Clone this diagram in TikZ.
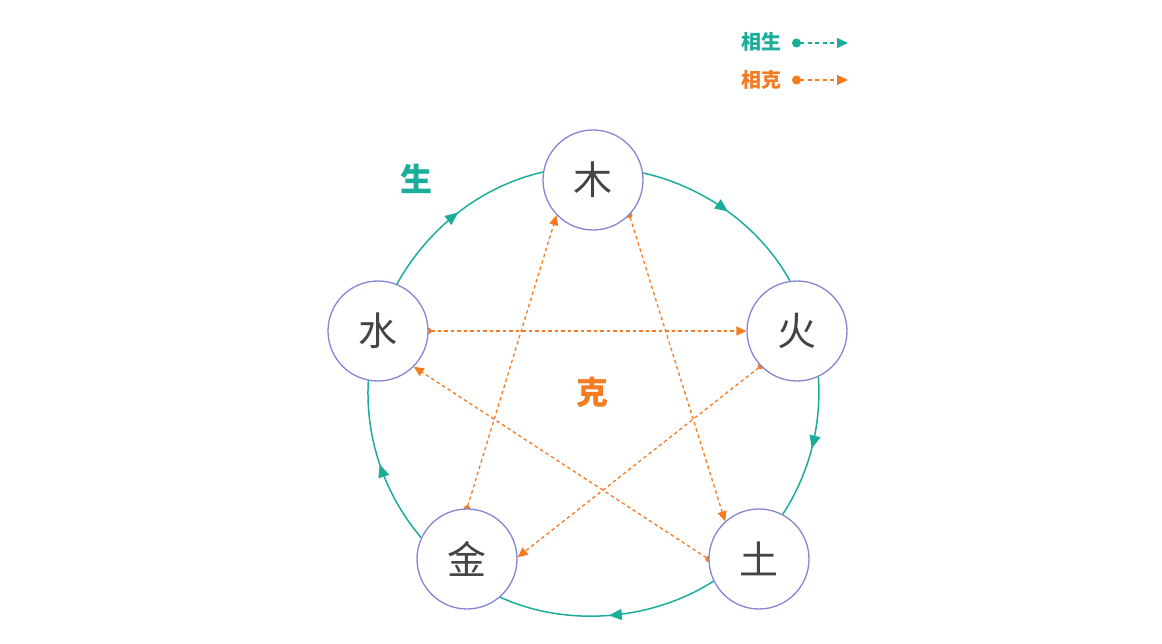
\documentclass[tikz,border=0pt]{standalone}
\usepackage{fontspec}
\newfontfamily\cjk{Noto Sans CJK SC}
\usetikzlibrary{arrows.meta,decorations.markings,backgrounds}
\definecolor{shenggreen}{HTML}{1AAE9A}
\definecolor{keorange}{HTML}{F47B20}
\definecolor{ringblue}{HTML}{8585D6}
\definecolor{glyphgray}{HTML}{444444}

\begin{document}
\begin{tikzpicture}[x=1pt,y=1pt,
  elemento/.style={circle, draw=ringblue, line width=1.3pt, fill=white,
    minimum size=100pt, inner sep=0pt, text=glyphgray,
    font=\cjk\fontsize{39}{41}\selectfont},
  sheng/.style={color=shenggreen, line width=1.5pt, looseness=0.88,
    postaction={decorate}, decoration={markings,
    mark=at position 0.5 with {\arrow{Triangle[length=13pt,width=11pt]}}}},
  ke/.style={color=keorange, line width=1.3pt, dash pattern=on 3.5pt off 3pt,
    {Circle[length=6pt]}-{Triangle[length=10pt,width=9pt]}, shorten <=-3pt},
  etichetta/.style={font=\cjk\bfseries\fontsize{32}{34}\selectfont},
  legenda/.style={font=\cjk\bfseries\fontsize{20}{22}\selectfont},
  campione/.style={line width=1.2pt, dash pattern=on 4pt off 3.5pt,
    {Circle[length=9pt]}-{Triangle[length=11pt,width=10pt]}, shorten <=0pt}]

  \useasboundingbox (0,0) rectangle (1162,644);

  % elementi
  \node[elemento] (mu) at (593,464) {木};
  \node[elemento] (huo) at (797,313) {火};
  \node[elemento] (tu) at (759,85) {土};
  \node[elemento] (jin) at (467,85) {金};
  \node[elemento] (shui) at (378,313) {水};

  % ciclo sheng
  \draw[sheng] (mu.8.6) to[out=-12.7, in=119.1] (huo.98.5);
  \draw[sheng] (huo.-65.7) to[out=-86.3, in=57] (tu.62.9);
  \draw[sheng] (tu.206.7) to[out=-147.4, in=-24.5] (jin.-49.1);
  \draw[sheng] (jin.155) to[out=130.4, in=-93.3] (shui.-101.1);
  \draw[sheng] (shui.68.9) to[out=61.1, in=192.7] (mu.171.4);

  % ciclo ke
  \begin{scope}[on background layer]
    \draw[ke] (shui.east) -- (huo.west);
    \draw[ke] (huo.224) -- (jin.2);
    \draw[ke] (jin.north) -- (mu.224);
    \draw[ke] (mu.-44) -- (tu.132);
    \draw[ke] (tu.west) -- (shui.-45);
  \end{scope}

  % etichette
  \node[etichetta, text=shenggreen] (lsheng) at (416,465) {生};
  \node[etichetta, text=keorange] (lke) at (592,252) {克};

  % legenda
  \node[legenda, text=shenggreen] (lgsheng) at (761,602) {相生};
  \node[legenda, text=keorange] (lgke) at (761,564) {相克};
  \coordinate (sa) at (792,601);
  \coordinate (sb) at (848,601);
  \coordinate (ka) at (792,564);
  \coordinate (kb) at (848,564);
  \draw[campione, shenggreen] (sa) -- (sb);
  \draw[campione, keorange] (ka) -- (kb);
\end{tikzpicture}
\end{document}
